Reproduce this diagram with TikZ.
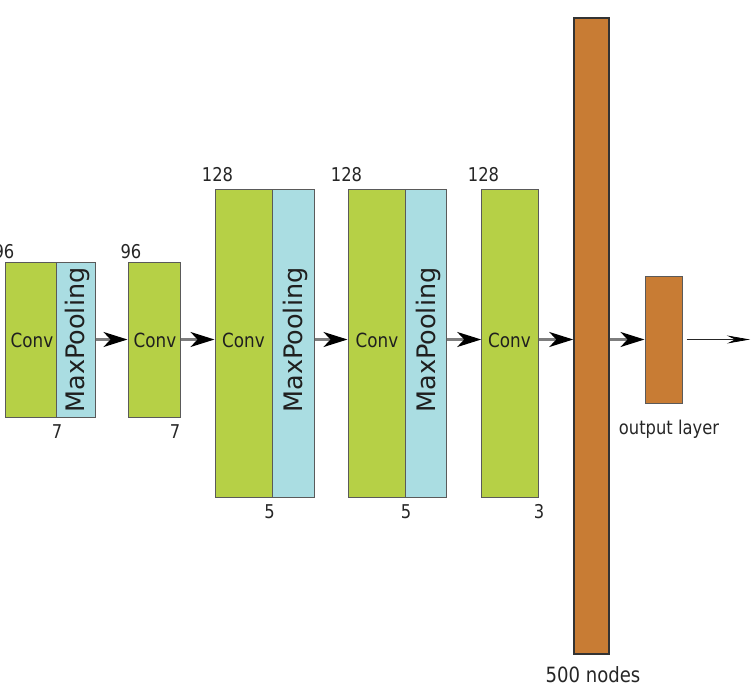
\documentclass[tikz,border=0pt]{standalone}
\usepackage{fontspec}
\setmainfont{DejaVu Sans}
\newfontfamily\condfont{DejaVu Sans}[FakeStretch=0.86]
\usetikzlibrary{arrows.meta}
\definecolor{convgreen}{RGB}{182,208,70}
\definecolor{poolblue}{RGB}{170,221,226}
\definecolor{fcorange}{RGB}{200,124,52}
\definecolor{edgegray}{RGB}{90,90,90}
\definecolor{linegray}{RGB}{125,125,125}
\begin{document}
\begin{tikzpicture}[x=1pt,y=-1pt,
  blk/.style={draw=edgegray, line width=1pt, inner sep=0pt, anchor=center},
  conv/.style={blk, fill=convgreen},
  convtxt/.style={inner sep=0pt, text=black!88, font=\condfont\fontsize{19.5}{19.5}\selectfont},
  pool/.style={blk, fill=poolblue},
  fc/.style={blk, fill=fcorange},
  pooltxt/.style={rotate=90, inner sep=0pt, text=black!88, font=\fontsize{25.5}{25.5}\selectfont},
  num/.style={anchor=base, inner sep=0pt, text=black!85, font=\condfont\fontsize{19}{19}\selectfont},
  conn/.style={draw=linegray, line width=2.2pt, -{Stealth[length=24pt,width=15pt,inset=7pt,color=black]}},
  thinconn/.style={draw=black!85, line width=0.8pt, -{Stealth[length=23pt,width=8pt,inset=8pt,color=black]}}
]
\useasboundingbox (0,0) rectangle (752,690);
\coordinate (ax) at (0,339.5);
% block 1
\node[conv, minimum width=51pt, minimum height=155pt] (c1) at (30.5,339.5) {};
\node[convtxt] (c1t) at (32,340) {Conv};
\node[pool, minimum width=39pt, minimum height=155pt] (p1) at (75.5,339.5) {};
\node[pooltxt] (p1t) at (77,340) {MaxPooling};
% block 2
\node[conv, minimum width=52pt, minimum height=155pt] (c2) at (154,339.5) {};
\node[convtxt] (c2t) at (155,340) {Conv};
% block 3
\node[conv, minimum width=57.5pt, minimum height=308pt] (c3) at (243.75,343) {};
\node[convtxt] (c3t) at (243.5,340) {Conv};
\node[pool, minimum width=41.5pt, minimum height=308pt] (p3) at (293.25,343) {};
\node[pooltxt] (p3t) at (295,340) {MaxPooling};
% block 4
\node[conv, minimum width=57.7pt, minimum height=308pt] (c4) at (376.85,343) {};
\node[convtxt] (c4t) at (377,340) {Conv};
\node[pool, minimum width=41pt, minimum height=308pt] (p4) at (426.2,343) {};
\node[pooltxt] (p4t) at (428,340) {MaxPooling};
% block 5
\node[conv, minimum width=56.3pt, minimum height=308pt] (c5) at (509.85,343) {};
\node[convtxt] (c5t) at (509.5,340) {Conv};
% dense
\node[fc, draw=black!80, line width=1.5pt, minimum width=35pt, minimum height=636pt] (fc) at (591.5,336) {};
\node[fc, draw=edgegray, minimum width=37pt, minimum height=127pt] (out) at (663.5,339.5) {};
\coordinate (end) at (750,339.5);
% labels
\node[num] (l96a) at (4,258) {96};
\node[num] (l7a) at (57,438) {7};
\node[num] (l96b) at (131,258) {96};
\node[num] (l7b) at (175,438) {7};
\node[num] (l128a) at (217.5,181) {128};
\node[num] (l5a) at (269.5,518) {5};
\node[num] (l128b) at (346.5,181) {128};
\node[num] (l5b) at (406,518) {5};
\node[num] (l128c) at (483.5,181) {128};
\node[num] (l3) at (539,518) {3};
\node[num, font=\condfont\fontsize{21}{21}\selectfont] (l500) at (593,682) {500 nodes};
\node[num, font=\condfont\fontsize{19}{19}\selectfont] (lout) at (669,434) {output layer};
% connectors
\draw[conn] (p1.east |- ax) -- (c2.west |- ax);
\draw[conn] (c2.east |- ax) -- (c3.west |- ax);
\draw[conn] (p3.east |- ax) -- (c4.west |- ax);
\draw[conn] (p4.east |- ax) -- (c5.west |- ax);
\draw[conn] (c5.east |- ax) -- (fc.west |- ax);
\draw[conn] (fc.east |- ax) -- (out.west |- ax);
\draw[thinconn] ([xshift=4pt]out.east) -- (end);
\end{tikzpicture}
\end{document}
